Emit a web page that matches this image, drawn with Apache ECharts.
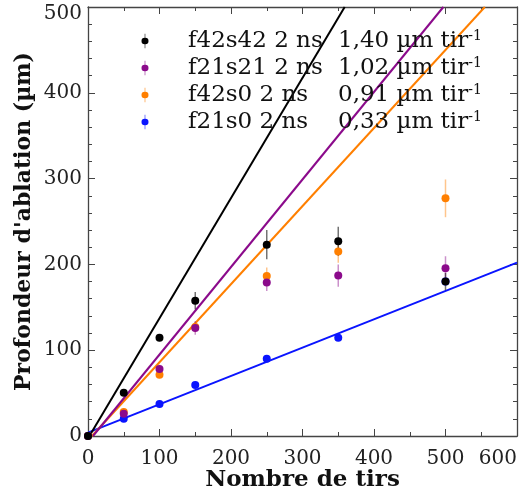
<!DOCTYPE html>
<html>
<head>
<meta charset="utf-8">
<script src="https://cdn.jsdelivr.net/npm/echarts@6/dist/echarts.min.js"></script>
<style>
html,body{margin:0;padding:0;background:#fff;}
#c{width:524px;height:495px;}
</style>
</head>
<body>
<div id="c"></div>
<script>
// ---- data ----
var shots = [0, 50, 100, 150, 250, 350, 500];

var f42s42 = [0, 50.5, 114.6, 157.7, 223, 227, 180];
var f42s42Err = [0, 4, 4, 10, 17, 17, 10];

var f21s21 = [0, 26, 78, 126, 179, 187, 195.5];
var f21s21Err = [0, 4, 5, 8, 10, 13, 14];

var f42s0 = [0, 28, 71.5, 127, 186.5, 215, 277];
var f42s0Err = [0, 4, 4, 6, 10, 13, 22];

var f21s0 = [0, 20, 37.3, 59.4, 90, 114.6, 180];
var f21s0Err = [0, 2, 2, 3, 3, 4, 4];

// linear fit lines (endpoints)
var fitF42s42 = [[2, 0], [359, 500]];
var fitF21s21 = [[7, 0], [497, 500]];
var fitF42s0 = [[5.5, 0], [555, 500]];
var fitF21s0 = [[0, 4], [600, 202]];

var seriesNames = ['f42s42 2 ns', 'f21s21 2 ns', 'f42s0 2 ns', 'f21s0 2 ns'];
var slopeLabels = ['1,40', '1,02', '0,91', '0,33'];
var xTicks = [0, 100, 200, 300, 400, 500, 600];
var yTicks = [0, 100, 200, 300, 400, 500];

// ---- chart ----
var colors = {
  'f42s42 2 ns': '#000000',
  'f21s21 2 ns': '#8b0a8b',
  'f42s0 2 ns': '#ff7f00',
  'f21s0 2 ns': '#0a14ff'
};
var errColors = {
  'f42s42 2 ns': 'rgba(0,0,0,0.55)',
  'f21s21 2 ns': 'rgba(139,10,139,0.45)',
  'f42s0 2 ns': 'rgba(255,127,0,0.45)',
  'f21s0 2 ns': 'rgba(10,20,255,0.45)'
};
var FONT = 'DejaVu Serif';

function pts(ys) { return shots.map(function (x, i) { return [x, ys[i]]; }); }
function errData(ys, es) { return shots.map(function (x, i) { return [x, ys[i] - es[i], ys[i] + es[i]]; }); }

function errSeries(name, ys, es) {
  return {
    type: 'custom',
    name: name + ' err',
    data: errData(ys, es),
    silent: true,
    z: 3,
    renderItem: function (params, api) {
      var p1 = api.coord([api.value(0), api.value(1)]);
      var p2 = api.coord([api.value(0), api.value(2)]);
      return {
        type: 'line',
        shape: { x1: p1[0], y1: p1[1], x2: p2[0], y2: p2[1] },
        style: { stroke: errColors[name], lineWidth: 1.5 }
      };
    }
  };
}
function fitSeries(name, d) {
  return {
    type: 'line', name: name + ' fit', data: d, showSymbol: false, symbol: 'none',
    clip: true, silent: true, z: 2,
    lineStyle: { color: colors[name], width: 2 }
  };
}
function scatterSeries(name, ys, z) {
  return {
    type: 'scatter', name: name, data: pts(ys), symbol: 'circle', symbolSize: 8, z: z,
    itemStyle: { color: colors[name], opacity: 1 }
  };
}

var legendIcon = 'path://M3.2,0h0.6v4.5A3.5,3.5,0,1,1,3.8,11.5v4.5h-0.6v-4.5A3.5,3.5,0,1,1,3.2,4.5z';

var series = [
  fitSeries('f21s0 2 ns', fitF21s0),
  fitSeries('f42s0 2 ns', fitF42s0),
  fitSeries('f21s21 2 ns', fitF21s21),
  fitSeries('f42s42 2 ns', fitF42s42),
  errSeries('f21s0 2 ns', f21s0, f21s0Err),
  errSeries('f42s0 2 ns', f42s0, f42s0Err),
  errSeries('f21s21 2 ns', f21s21, f21s21Err),
  errSeries('f42s42 2 ns', f42s42, f42s42Err),
  scatterSeries('f21s0 2 ns', f21s0, 4),
  scatterSeries('f42s0 2 ns', f42s0, 5),
  scatterSeries('f21s21 2 ns', f21s21, 6),
  scatterSeries('f42s42 2 ns', f42s42, 7)
];

var tickColor = '#444';
function axisBase(extra) {
  var a = {
    min: 0,
    axisLine: { show: true, onZero: false, lineStyle: { color: '#444', width: 1.3 } },
    axisTick: { show: true, inside: true, length: 7, lineStyle: { color: tickColor, width: 1 } },
    minorTick: { show: true, length: 4, lineStyle: { color: tickColor, width: 1 } },
    splitLine: { show: false },
    minorSplitLine: { show: false }
  };
  for (var k in extra) a[k] = extra[k];
  return a;
}

var chart = echarts.init(document.getElementById('c'), null, { renderer: 'canvas' });
chart.setOption({
  animation: false,
  backgroundColor: '#fff',
  grid: { left: 88, right: 7, top: 7, bottom: 59, containLabel: false, outerBoundsMode: 'none' },
  legend: {
    data: seriesNames,
    orient: 'vertical',
    left: 141.5, top: 29, padding: 0,
    itemWidth: 7, itemHeight: 16, itemGap: 3.5,
    icon: legendIcon,
    selectedMode: false,
    formatter: function (n) {
      var i = seriesNames.indexOf(n);
      return '{n|' + n + '}{v|' + slopeLabels[i] + ' µm tir}{s|-1}';
    },
    textStyle: {
      fontFamily: FONT, fontSize: 23, color: '#111',
      rich: {
        n: { fontFamily: FONT, fontSize: 23, color: '#111', width: 150, padding: [0, 0, 0, 34.5], lineHeight: 24 },
        v: { fontFamily: FONT, fontSize: 23, color: '#111', lineHeight: 24 },
        s: { fontFamily: FONT, fontSize: 14, color: '#111', verticalAlign: 'top', lineHeight: 24, padding: [0, 0, 8, 0] }
      }
    }
  },
  xAxis: [
    axisBase({
      type: 'value', max: 600, interval: 100, position: 'bottom',
      minorTick: { show: true, splitNumber: 2, length: 4, lineStyle: { color: tickColor } },
      axisLabel: {
        fontFamily: FONT, fontSize: 20, color: '#222', margin: 13,
        alignMaxLabel: 'right',
        formatter: function (v) { return xTicks.indexOf(v) >= 0 ? String(v) : ''; }
      },
      name: 'Nombre de tirs', nameLocation: 'middle', nameGap: 33, nameMoveOverlap: false,
      nameTextStyle: { fontFamily: FONT, fontSize: 23, fontWeight: 'bold', color: '#111' }
    }),
    axisBase({
      type: 'value', max: 600, interval: 100, position: 'top',
      minorTick: { show: true, splitNumber: 2, length: 4, lineStyle: { color: tickColor } },
      axisLabel: { show: false }
    })
  ],
  yAxis: [
    axisBase({
      type: 'value', max: 500, interval: 100, position: 'left',
      minorTick: { show: true, splitNumber: 5, length: 4, lineStyle: { color: tickColor } },
      axisLabel: {
        fontFamily: FONT, fontSize: 20, color: '#222', margin: 6,
        formatter: function (v) {
          if (yTicks.indexOf(v) < 0) return '';
          return v === 500 ? '{t|' + v + '}' : String(v);
        },
        rich: { t: { fontFamily: FONT, fontSize: 20, color: '#222', padding: [14, 0, 0, 0] } }
      },
      name: "Profondeur d'ablation (µm)", nameLocation: 'middle', nameGap: 53, nameMoveOverlap: false,
      nameTextStyle: { fontFamily: FONT, fontSize: 22, fontWeight: 'bold', color: '#111' }
    }),
    axisBase({
      type: 'value', max: 500, interval: 100, position: 'right',
      minorTick: { show: true, splitNumber: 5, length: 4, lineStyle: { color: tickColor } },
      axisLabel: { show: false }
    })
  ],
  series: series
});
</script>
</body>
</html>
